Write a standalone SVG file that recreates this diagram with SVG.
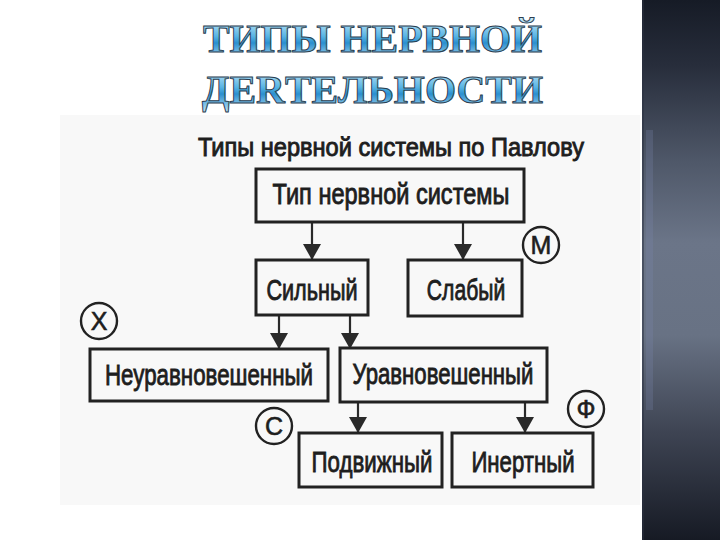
<svg xmlns="http://www.w3.org/2000/svg" width="720" height="540" viewBox="0 0 720 540">
<defs>
<linearGradient id="panel" x1="0" y1="0" x2="0" y2="1">
<stop offset="0" stop-color="#161b26"/>
<stop offset="0.12" stop-color="#272d3b"/>
<stop offset="0.3" stop-color="#4f5869"/>
<stop offset="0.45" stop-color="#6b7588"/>
<stop offset="0.62" stop-color="#687284"/>
<stop offset="0.8" stop-color="#3e4453"/>
<stop offset="1" stop-color="#161a24"/>
</linearGradient>
<linearGradient id="titleFill" x1="0" y1="0" x2="0" y2="1">
<stop offset="0" stop-color="#d6eefa"/>
<stop offset="0.45" stop-color="#58b4e4"/>
<stop offset="0.6" stop-color="#2a8fcf"/>
<stop offset="1" stop-color="#bfe4f6"/>
</linearGradient>
<marker id="arr" markerUnits="userSpaceOnUse" markerWidth="20" markerHeight="18" refX="16" refY="9" orient="auto">
<path d="M0,0 L16,9 L0,18 Z" fill="#2a2a2a"/>
</marker>
<style>
.title{font-family:"Liberation Serif","DejaVu Serif",serif;font-weight:bold;font-size:40px;fill:url(#titleFill);stroke:#2c3e50;stroke-width:1}
.box{fill:none;stroke:#222;stroke-width:3}
.lbl{font-family:"Liberation Sans Narrow","Liberation Sans",Arial,sans-serif;font-size:30px;fill:#1e1e1e;stroke:#1e1e1e;stroke-width:0.9;text-anchor:middle}
.hd{font-size:25px}
.conn{stroke:#2a2a2a;stroke-width:2.2;fill:none;marker-end:url(#arr)}
.circ{fill:none;stroke:#222;stroke-width:2.4}
.cl{font-family:"Liberation Sans Narrow","Liberation Sans",Arial,sans-serif;font-size:25px;fill:#1e1e1e;stroke:#1e1e1e;stroke-width:0.6;text-anchor:middle}
</style>
</defs>
<rect width="720" height="540" fill="#ffffff"/>
<rect x="60" y="115" width="580" height="390" fill="#f8f8f8"/>
<rect x="642" y="0" width="78" height="540" fill="url(#panel)"/>
<rect x="642" y="0" width="2" height="540" fill="#2a3040" opacity="0.5"/>
<rect x="646" y="130" width="7" height="280" fill="#7a86b0" opacity="0.25"/>

<g id="title">
<text class="title" x="203" y="52" textLength="339" lengthAdjust="spacingAndGlyphs">ТИПЫ НЕРВНОЙ</text>
<text class="title" x="202" y="103" textLength="341" lengthAdjust="spacingAndGlyphs">ДЕRТЕЛЬНОСТИ</text>
</g>

<g id="heading">
<text class="lbl hd" x="391" y="156" textLength="386" lengthAdjust="spacingAndGlyphs">Типы нервной системы по Павлову</text>
</g>

<g id="connectors">
<line class="conn" x1="312" y1="222" x2="312" y2="260"/>
<line class="conn" x1="463" y1="222" x2="463" y2="260"/>
<line class="conn" x1="279" y1="315" x2="279" y2="349"/>
<line class="conn" x1="350" y1="315" x2="350" y2="349"/>
<line class="conn" x1="358" y1="402" x2="358" y2="433"/>
<line class="conn" x1="525" y1="402" x2="525" y2="433"/>
</g>

<g id="node-root">
<rect class="box" x="256" y="169" width="268" height="53"/>
<text class="lbl" transform="translate(391,204) scale(0.8,1)" textLength="296" lengthAdjust="spacingAndGlyphs">Тип нервной системы</text>
</g>
<g id="node-strong">
<rect class="box" x="256" y="260" width="112" height="55"/>
<text class="lbl" transform="translate(312,300) scale(0.8,1)" textLength="114" lengthAdjust="spacingAndGlyphs">Сильный</text>
</g>
<g id="node-weak">
<rect class="box" x="408" y="260" width="114" height="56"/>
<text class="lbl" transform="translate(466,300) scale(0.8,1)" textLength="98" lengthAdjust="spacingAndGlyphs">Слабый</text>
</g>
<g id="node-unbalanced">
<rect class="box" x="90" y="349" width="238" height="52"/>
<text class="lbl" transform="translate(209,385) scale(0.8,1)" textLength="260" lengthAdjust="spacingAndGlyphs">Неуравновешенный</text>
</g>
<g id="node-balanced">
<rect class="box" x="340" y="348" width="207" height="54"/>
<text class="lbl" transform="translate(443,384) scale(0.8,1)" textLength="226" lengthAdjust="spacingAndGlyphs">Уравновешенный</text>
</g>
<g id="node-mobile">
<rect class="box" x="299" y="433" width="143" height="54"/>
<text class="lbl" transform="translate(372,472) scale(0.8,1)" textLength="151" lengthAdjust="spacingAndGlyphs">Подвижный</text>
</g>
<g id="node-inert">
<rect class="box" x="452" y="433" width="141" height="54"/>
<text class="lbl" transform="translate(523,472) scale(0.8,1)" textLength="129" lengthAdjust="spacingAndGlyphs">Инертный</text>
</g>

<g id="mark-m">
<circle class="circ" cx="541" cy="245" r="18"/>
<text class="cl" x="541" y="254">М</text>
</g>
<g id="mark-x">
<circle class="circ" cx="99" cy="321" r="18"/>
<text class="cl" x="99" y="330">Х</text>
</g>
<g id="mark-c">
<circle class="circ" cx="274" cy="426" r="18"/>
<text class="cl" x="274" y="435">С</text>
</g>
<g id="mark-f">
<circle class="circ" cx="586" cy="409" r="18"/>
<text class="cl" x="586" y="418">Ф</text>
</g>
</svg>
